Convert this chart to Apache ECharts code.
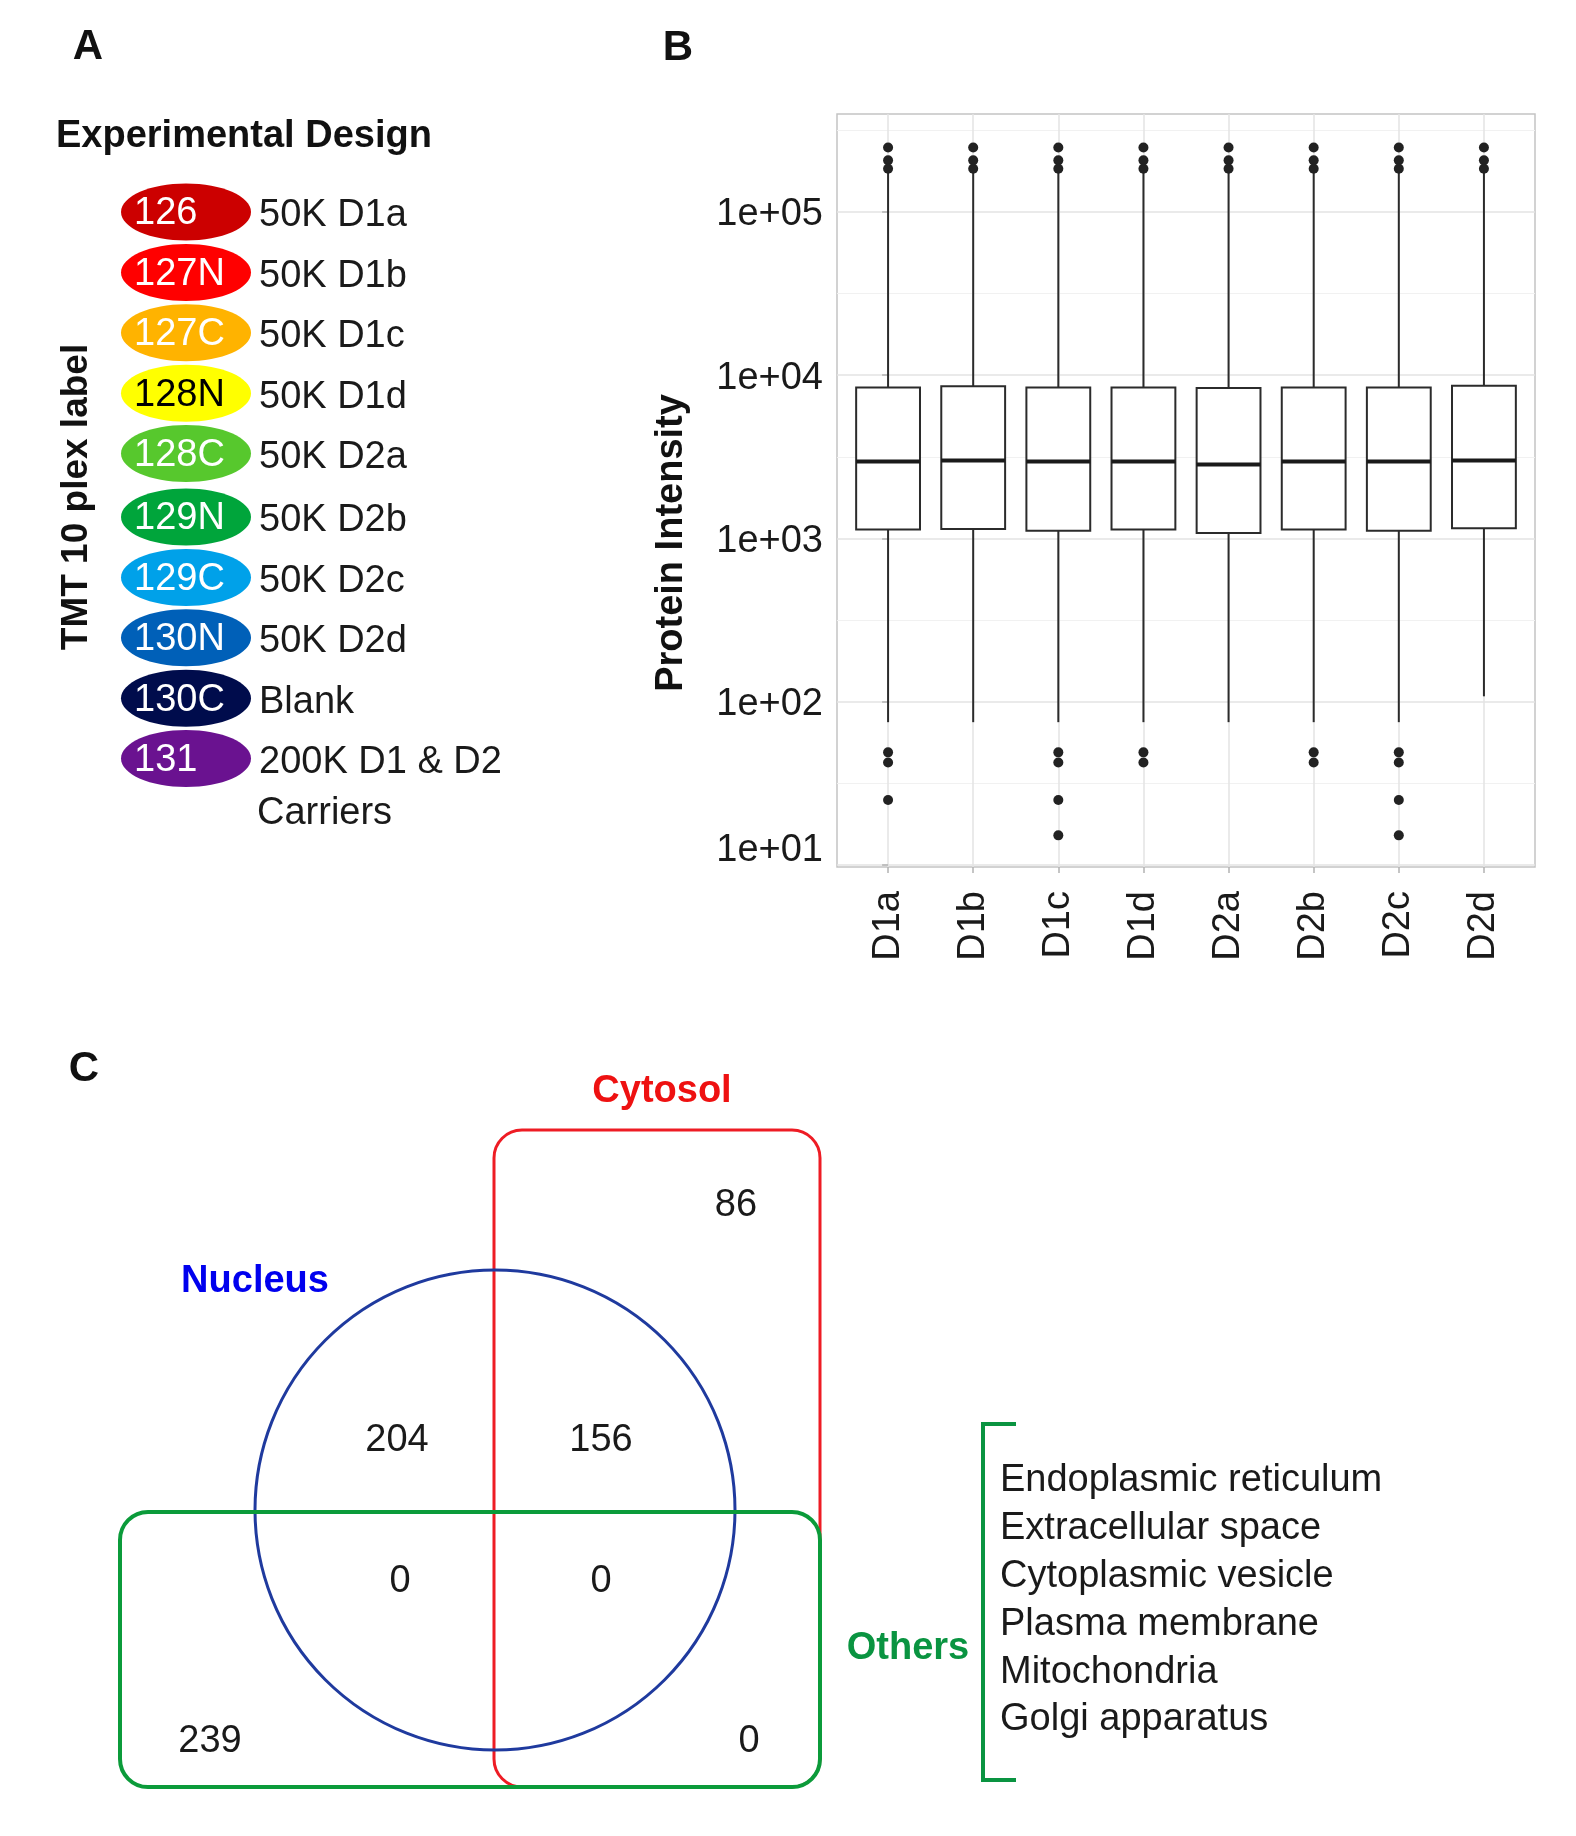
<!DOCTYPE html>
<html><head><meta charset="utf-8">
<script src="https://cdn.jsdelivr.net/npm/echarts@6/dist/echarts.min.js"></script>
<style>html,body{margin:0;padding:0;background:#fff}#c{width:1576px;height:1836px}</style>
</head><body><div id="c"></div>
<script>
// ---------- Panel A data ----------
const tmtLabels = ['126','127N','127C','128N','128C','129N','129C','130N','130C','131'];
const tmtSamples = ['50K D1a','50K D1b','50K D1c','50K D1d','50K D2a','50K D2b','50K D2c','50K D2d','Blank','200K D1 & D2'];
const tmtColors = ['#cc0000','#ff0000','#ffb300','#ffff00','#57c82d','#00a53b','#00a1e9','#0060b8','#000c4c','#6a1290'];
const tmtTextColors = ['#fff','#fff','#fff','#000','#fff','#fff','#fff','#fff','#fff','#fff'];
// ---------- Panel B data ----------
const categories = ['D1a','D1b','D1c','D1d','D2a','D2b','D2c','D2d'];
const whiskerLow = [75, 75, 75, 75, 75, 75, 75, 108];
const q1 = [1135, 1145, 1117, 1135, 1082, 1135, 1117, 1155];
const median = [2960, 3005, 2960, 2960, 2840, 2960, 2960, 3005];
const q3 = [8415, 8570, 8415, 8415, 8340, 8415, 8415, 8630];
const whiskerHigh = [180000, 180000, 180000, 180000, 180000, 180000, 180000, 180000];
const outliers = [
  [248000, 207000, 184000, 49, 42.5, 25],
  [248000, 207000, 184000],
  [248000, 207000, 184000, 49, 42.5, 25, 15.2],
  [248000, 207000, 184000, 49, 42.5],
  [248000, 207000, 184000],
  [248000, 207000, 184000, 49, 42.5],
  [248000, 207000, 184000, 49, 42.5, 25, 15.2],
  [248000, 207000, 184000]
];
const yTicks = [10, 100, 1000, 10000, 100000];
const yTickLabels = ['1e+01','1e+02','1e+03','1e+04','1e+05'];
const yMinorTicks = [10**1.5, 10**2.5, 10**3.5, 10**4.5, 10**5.5];
// ---------- Panel C data ----------
const vennRegions = ['Cytosol only','Nucleus only','Nucleus & Cytosol','Nucleus & Others','All three','Others only','Cytosol & Others'];
const vennValues = [86, 204, 156, 0, 0, 239, 0];
const othersList = ['Endoplasmic reticulum','Extracellular space','Cytoplasmic vesicle','Plasma membrane','Mitochondria','Golgi apparatus'];

const FF = "'Liberation Sans', Arial, Helvetica, sans-serif";
const L = Math.log10;
const DY = 4; // optical baseline correction for middle-aligned text

function txt(t, x, y, size, opts) {
  opts = opts || {};
  return {
    type: 'text', x: x, y: y, rotation: opts.rotation || 0, z: 10,
    style: {
      text: t, fontSize: size, fontFamily: FF, fontWeight: opts.bold ? 'bold' : 'normal',
      fill: opts.color || '#111',
      align: opts.align || 'left', verticalAlign: 'middle',
      textAlign: opts.align || 'left', textVerticalAlign: 'middle'
    }
  };
}

const graphics = [];
// Panel letters
graphics.push(txt('A', 88, 47, 42, {bold: true, align: 'center'}));
graphics.push(txt('B', 678, 48, 42, {bold: true, align: 'center'}));
graphics.push(txt('C', 84, 1069, 42, {bold: true, align: 'center'}));

// Panel A
graphics.push(txt('Experimental Design', 56, 137, 38, {bold: true}));
graphics.push(txt('TMT 10 plex label', 77, 497, 37, {bold: true, align: 'center', rotation: Math.PI / 2}));
const rowTop = 212, rowStep = 60.4;
tmtLabels.forEach(function (lab, i) {
  const cy = rowTop + i * rowStep + (i >= 5 ? 3 : 0);
  graphics.push({type: 'ellipse', shape: {cx: 186, cy: cy, rx: 65, ry: 28.5}, style: {fill: tmtColors[i]}, z: 5});
  graphics.push(txt(lab, 134, cy + 2, 38, {color: tmtTextColors[i]}));
  graphics.push(txt(tmtSamples[i], 259, cy + 4, 38, {color: '#1a1a1a'}));
});
graphics.push(txt('Carriers', 257, rowTop + 9 * rowStep + 3 + 55, 38, {color: '#1a1a1a'}));

// Panel B y title
graphics.push(txt('Protein Intensity', 672, 543, 38, {bold: true, align: 'center', rotation: Math.PI / 2}));

// Panel C (Venn)
graphics.push({type: 'rect', shape: {x: 494, y: 1130, width: 326, height: 657, r: 28}, style: {fill: 'none', stroke: '#ee1c24', lineWidth: 3}, z: 5});
graphics.push({type: 'circle', shape: {cx: 495, cy: 1510, r: 240}, style: {fill: 'none', stroke: '#1f3a9e', lineWidth: 3}, z: 6});
graphics.push({type: 'rect', shape: {x: 120, y: 1512, width: 700, height: 275, r: 28}, style: {fill: 'none', stroke: '#0b9b3a', lineWidth: 4}, z: 7});
graphics.push(txt('Cytosol', 662, 1088 + DY, 38, {bold: true, align: 'center', color: '#ee1111'}));
graphics.push(txt('Nucleus', 255, 1278 + DY, 38, {bold: true, align: 'center', color: '#0000ee'}));
graphics.push(txt('Others', 908, 1647 + 2, 38, {bold: true, align: 'center', color: '#0a9441'}));
const vennPos = [[736, 1201], [397, 1436], [601, 1436], [400, 1577], [601, 1577], [210, 1737], [749, 1737]];
vennValues.forEach(function (v, i) {
  graphics.push(txt(String(v), vennPos[i][0], vennPos[i][1] + DY + 1, 38, {align: 'center', color: '#1a1a1a'}));
});
graphics.push({type: 'polyline', shape: {points: [[1016, 1424], [983, 1424], [983, 1780], [1016, 1780]]}, style: {fill: 'none', stroke: '#0a9441', lineWidth: 4}, z: 5});
othersList.forEach(function (t, i) {
  graphics.push(txt(t, 1000, 1478 + DY - 1 + i * 47.8, 38, {color: '#1a1a1a'}));
});

// ---------- Chart ----------
const boxData = categories.map(function (c, i) {
  return [i, L(whiskerLow[i]), L(q1[i]), L(median[i]), L(q3[i]), L(whiskerHigh[i])];
});
const outlierData = [];
outliers.forEach(function (arr, i) { arr.forEach(function (v) { outlierData.push([i, L(v)]); }); });

const chart = echarts.init(document.getElementById('c'), null, {renderer: 'canvas'});
chart.setOption({
  animation: false,
  backgroundColor: '#fff',
  grid: {left: 837, top: 114, width: 698, height: 753, show: true, borderColor: '#c4c4c4', borderWidth: 1.5, backgroundColor: '#fff', containLabel: false},
  xAxis: {
    type: 'value', min: -0.6, max: 7.6,
    axisLine: {show: false},
    axisTick: {show: true, length: 6, lineStyle: {color: '#b3b3b3', width: 1.5}, customValues: categories.map(function (c, i) { return i; })},
    axisLabel: {customValues: categories.map(function (c, i) { return i; }), formatter: function (v) { return categories[Math.round(v)]; },
      rotate: 90, fontSize: 38, fontFamily: FF, color: '#1a1a1a', margin: 24},
    splitLine: {show: true, lineStyle: {color: '#e3e3e3', width: 1.5}}
  },
  yAxis: [{
    type: 'value', min: 0.988, max: 5.6,
    axisLine: {show: false},
    axisTick: {show: true, length: 6, lineStyle: {color: '#b3b3b3', width: 1.5}, customValues: yTicks.map(L)},
    axisLabel: {customValues: yTicks.map(L), fontSize: 38, fontFamily: FF, color: '#1a1a1a', margin: 14,
      formatter: function (v) {
        let idx = 0;
        yTicks.forEach(function (t, i) { if (Math.abs(L(t) - v) < 1e-6) idx = i; });
        return idx === 0 ? '{lo|' + yTickLabels[idx] + '}' : '{n|' + yTickLabels[idx] + '}';
      },
      rich: {
        lo: {fontSize: 38, fontFamily: FF, color: '#1a1a1a', padding: [0, 0, 30, 0]},
        n: {fontSize: 38, fontFamily: FF, color: '#1a1a1a', padding: [6, 0, 0, 0]}
      }
    },
    splitLine: {show: true, lineStyle: {color: '#e3e3e3', width: 1.5}}
  }, {
    type: 'value', min: 0.988, max: 5.6, position: 'right',
    axisLine: {show: false},
    axisTick: {show: false, customValues: yMinorTicks.map(L)},
    axisLabel: {show: false, customValues: yMinorTicks.map(L)},
    splitLine: {show: true, lineStyle: {color: '#f1f1f1', width: 1.2}}
  }],
  series: [{
    type: 'custom',
    xAxisIndex: 0, yAxisIndex: 0,
    encode: {x: 0, y: [1, 2, 3, 4, 5]},
    data: boxData,
    z: 3,
    renderItem: function (params, api) {
      const x = api.value(0);
      const lo = api.coord([x, api.value(1)]);
      const b = api.coord([x, api.value(2)]);
      const m = api.coord([x, api.value(3)]);
      const t = api.coord([x, api.value(4)]);
      const hi = api.coord([x, api.value(5)]);
      const w = api.size([0.75, 0])[0];
      return {type: 'group', children: [
        {type: 'line', shape: {x1: lo[0], y1: lo[1], x2: b[0], y2: b[1]}, style: {stroke: '#2b2b2b', lineWidth: 2}},
        {type: 'line', shape: {x1: t[0], y1: t[1], x2: hi[0], y2: hi[1]}, style: {stroke: '#2b2b2b', lineWidth: 2}},
        {type: 'rect', shape: {x: b[0] - w / 2, y: t[1], width: w, height: b[1] - t[1]}, style: {stroke: '#2b2b2b', lineWidth: 2, fill: '#fff'}},
        {type: 'line', shape: {x1: m[0] - w / 2, y1: m[1], x2: m[0] + w / 2, y2: m[1]}, style: {stroke: '#1a1a1a', lineWidth: 4}}
      ]};
    }
  }, {
    type: 'scatter', xAxisIndex: 0, yAxisIndex: 0,
    data: outlierData, symbol: 'circle', symbolSize: 10,
    itemStyle: {color: '#222', opacity: 1}, z: 4
  }],
  graphic: graphics
});
</script></body></html>
